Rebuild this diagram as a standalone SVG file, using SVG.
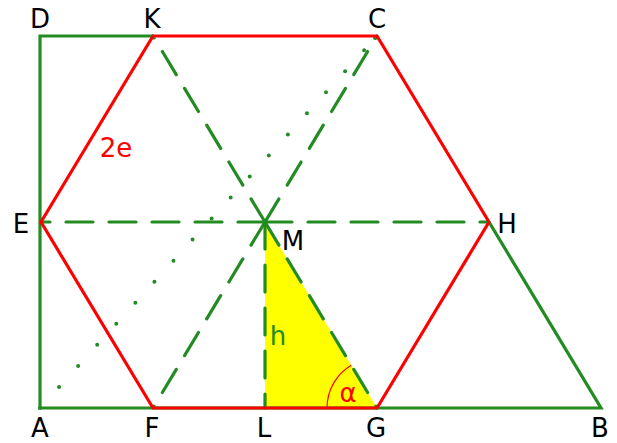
<svg xmlns="http://www.w3.org/2000/svg" width="617" height="443" viewBox="0 0 617 443">
<style>
.g{fill:none;stroke:#228b22;stroke-width:3.2;stroke-linejoin:miter}
.r{fill:none;stroke:#ff0000;stroke-width:3.2;stroke-linejoin:round}
.d{fill:none;stroke:#228b22;stroke-width:3.2;stroke-linecap:round;stroke-dasharray:27 16}
.dot{fill:none;stroke:#228b22;stroke-width:4;stroke-linecap:round;stroke-dasharray:0 28.4}
text{font-family:"DejaVu Sans",sans-serif;font-size:26px;fill:#000;text-anchor:middle}
.tr{fill:#ff0000}
.tg{fill:#228b22}
</style>
<rect width="617" height="443" fill="#fff"/>
<g id="triangle">
<polygon points="265,222 265,408 377,408" fill="#ffff00"/>
<path d="M327 408 A50 50 0 0 1 351.2 365.2" fill="none" stroke="#ff0000" stroke-width="1.2"/>
</g>
<g id="connectors">
<path class="dot" d="M40 408 L377 36"/>
<circle cx="375" cy="38" r="2" fill="#228b22"/>
<path class="d" d="M265 222 L41 222"/>
<path class="d" d="M265 222 L489 222"/>
<path class="d" d="M265 222 L153 36"/>
<path class="d" d="M265 222 L377 36"/>
<path class="d" d="M265 222 L153 408"/>
<path class="d" d="M265 222 L377 408"/>
<path class="d" d="M265 222 L265 408"/>
</g>
<g id="outline">
<polyline class="g" points="153,36 40,36 40,408 601,408 489,222"/>
</g>
<g id="hexagon">
<polygon class="r" points="153,36 377,36 489,222 377,408 153,408 41,222"/>
</g>
<g id="labels">
<text x="40" y="28">D</text>
<text x="152" y="28">K</text>
<text x="377" y="28">C</text>
<text x="21" y="233">E</text>
<text x="293" y="250">M</text>
<text x="507" y="233">H</text>
<text x="40" y="437">A</text>
<text x="152" y="437">F</text>
<text x="264" y="437">L</text>
<text x="376" y="437">G</text>
<text x="600" y="437">B</text>
<text class="tg" x="278" y="345">h</text>
<text class="tr" x="116" y="157">2e</text>
<text class="tr" x="348" y="402">α</text>
</g>
</svg>
